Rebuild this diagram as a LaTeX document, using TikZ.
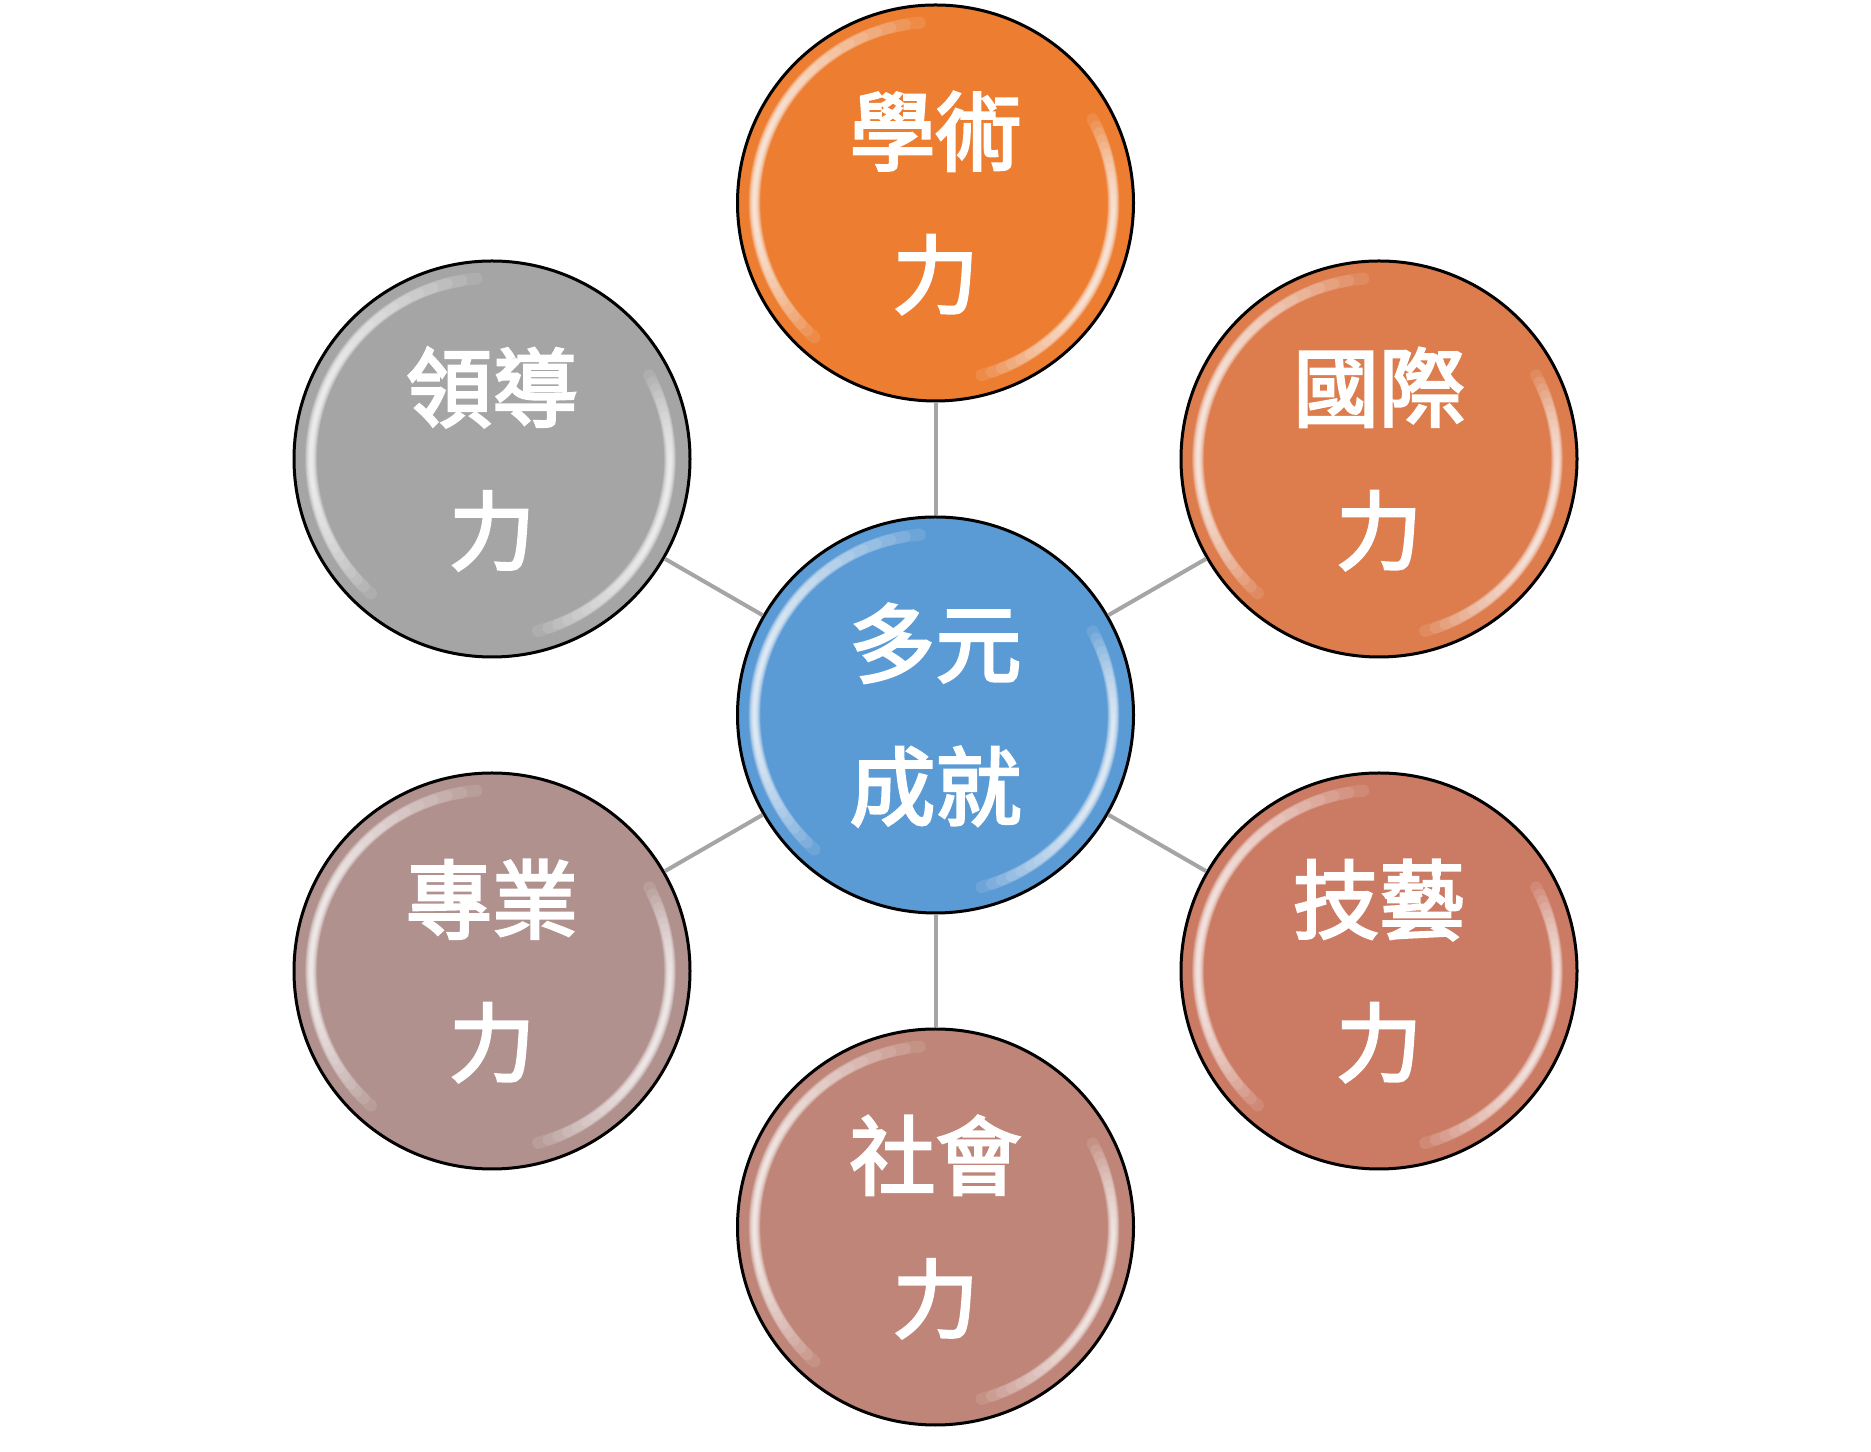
\documentclass[tikz,border=0pt]{standalone}
\usepackage{fontspec}
\newfontfamily\cjk{Noto Sans CJK TC}[FakeBold=3]
\definecolor{cCenter}{HTML}{5B9BD5}
\definecolor{cA}{HTML}{ED7D31}
\definecolor{cB}{HTML}{DD7C4C}
\definecolor{cC}{HTML}{CB7B64}
\definecolor{cD}{HTML}{BE8578}
\definecolor{cE}{HTML}{B0918D}
\definecolor{cF}{HTML}{A5A5A5}
\definecolor{conncol}{HTML}{A5A5A5}
\tikzset{
  ball/.style={circle, draw=black, line width=3pt, minimum size=396pt, inner sep=0pt,
    text=white, align=center, font=\cjk\fontsize{86}{143}\selectfont},
  conn/.style={draw=conncol, line width=4pt},
  hl/.style={white, line cap=round, opacity=0.11},
}
\newcommand\glossy[1]{%
  \begin{scope}[shift={(#1.center)}]
    \foreach \i in {0,...,13}{
      \pgfmathsetmacro\sa{95+4.6*\i}
      \pgfmathsetmacro\ea{228-3.0*\i}
      \pgfmathsetmacro\lw{12-0.75*\i}
      \draw[hl, line width=\lw pt] (\sa:181pt) arc[start angle=\sa, end angle=\ea, radius=181pt];
      \pgfmathsetmacro\sb{-75+3.3*\i}
      \pgfmathsetmacro\eb{28-2.3*\i}
      \draw[hl, line width=\lw pt] (\sb:178pt) arc[start angle=\sb, end angle=\eb, radius=178pt];
    }
  \end{scope}}
\begin{document}
\begin{tikzpicture}[x=1pt,y=1pt]
  \useasboundingbox (0,0) rectangle (1871,1451);
  \fill[white] (0,0) rectangle (1871,1451);
  \node[ball, fill=cCenter] (center) at (935.5,736) {多元\\成就};
  \node[ball, fill=cA] (xueshu) at (935.5,1248) {學術\\力};
  \node[ball, fill=cB] (guoji) at (1379,992) {國際\\力};
  \node[ball, fill=cC] (jiyi) at (1379,480) {技藝\\力};
  \node[ball, fill=cD] (shehui) at (935.5,224) {社會\\力};
  \node[ball, fill=cE] (zhuanye) at (492,480) {專業\\力};
  \node[ball, fill=cF] (lingdao) at (492,992) {領導\\力};
  \foreach \n in {center,xueshu,guoji,jiyi,shehui,zhuanye,lingdao}{\glossy{\n}}
  \foreach \n in {xueshu,guoji,jiyi,shehui,zhuanye,lingdao}{\draw[conn] (center) -- (\n);}
\end{tikzpicture}
\end{document}
